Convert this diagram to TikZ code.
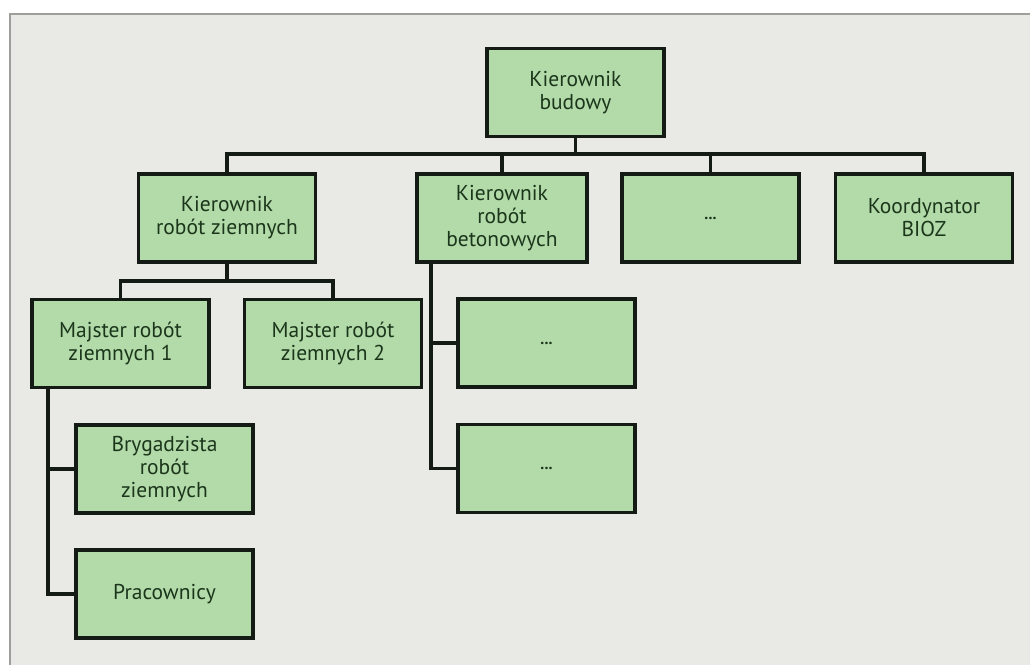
\documentclass[tikz,border=0pt]{standalone}
\usepackage{fontspec}
\setmainfont{PT Sans}
\definecolor{bgc}{HTML}{E9EAE6}
\definecolor{framec}{HTML}{9E9E9A}
\definecolor{boxc}{HTML}{B3DBA9}
\definecolor{txtc}{HTML}{1C361C}
\definecolor{linec}{HTML}{141A14}
\tikzset{
  orgbox/.style={draw=linec, line width=3.8pt, fill=boxc, text=txtc,
    minimum width=177pt, minimum height=88pt, align=center, inner sep=2pt,
    font=\fontsize{21.5}{23}\selectfont},
  dotbox/.style={orgbox, font=\fontsize{16}{18}\selectfont\bfseries},
  conn/.style={draw=linec, line width=3.8pt}
}
\begin{document}
\begin{tikzpicture}[x=1pt,y=-1pt]
\useasboundingbox (0,0) rectangle (1030,664);
\clip (0,0) rectangle (1030,664);
\fill[white] (0,0) rectangle (1030,664);
\draw[framec, line width=2pt, fill=bgc] (10,14) rectangle (1040,680);

\node[orgbox] (kb) at (575.5,92.5) {Kierownik\\budowy};
\node[orgbox] (krz) at (227,218) {Kierownik\\robót ziemnych};
\node[orgbox, minimum width=170pt] (krb) at (502,218) {Kierownik\\robót\\betonowych};
\node[dotbox] (d1) at (710.5,218) {...};
\node[orgbox] (koord) at (924,218) {Koordynator\\BIOZ};
\node[orgbox] (m1) at (120.5,343.5) {Majster robót\\ziemnych 1};
\node[orgbox] (m2) at (333,343.5) {Majster robót\\ziemnych 2};
\node[dotbox] (e1) at (546.5,343) {...};
\node[dotbox] (e2) at (546.5,468.5) {...};
\node[orgbox] (bryg) at (164.5,469) {Brygadzista\\robót\\ziemnych};
\node[orgbox] (prac) at (164.5,594) {Pracownicy};

\coordinate (b1) at (0,154);
\coordinate (b2) at (0,281);
\draw[conn] (kb.south) -- (kb.south |- b1);
\draw[conn] (krz.north) |- (koord.north |- b1) -- (koord.north);
\draw[conn] (krb.north) -- (krb.north |- b1);
\draw[conn] (d1.north) -- (d1.north |- b1);

\draw[conn] (krz.south) -- (krz.south |- b2);
\draw[conn] (m1.north) |- (m2.north |- b2) -- (m2.north);

\coordinate (bl) at ([xshift=16pt]krb.south west);
\draw[conn] (bl) |- (e2.west);
\draw[conn] (bl |- e1.west) -- (e1.west);

\coordinate (ml) at ([xshift=18pt]m1.south west);
\draw[conn] (ml) |- (prac.west);
\draw[conn] (ml |- bryg.west) -- (bryg.west);
\end{tikzpicture}
\end{document}
